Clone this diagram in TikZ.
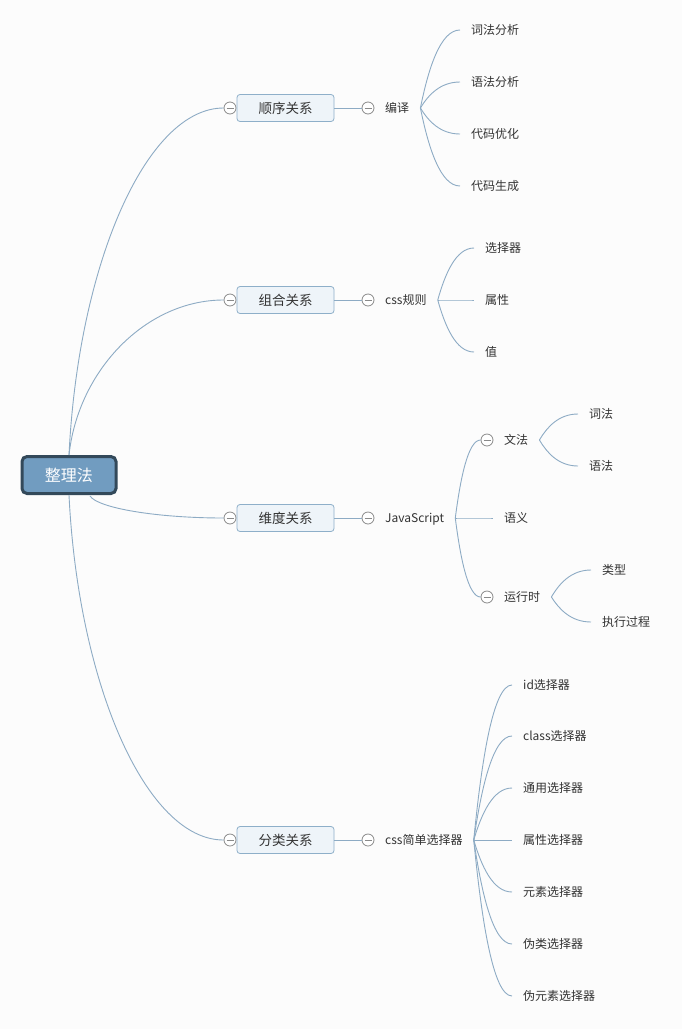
\documentclass[tikz,border=0pt]{standalone}
\usepackage{fontspec}
\setmainfont{Noto Sans CJK SC}
\usetikzlibrary{calc}
\definecolor{bgc}{HTML}{FCFCFC}
\definecolor{linec}{HTML}{8DABC4}
\definecolor{rootfill}{HTML}{719CC0}
\definecolor{rootline}{HTML}{33495A}
\definecolor{boxfill}{HTML}{EEF4F9}
\definecolor{boxline}{HTML}{8EAFC9}
\definecolor{foldc}{HTML}{8A8A8A}
\definecolor{txt}{HTML}{333333}
\tikzset{
  root/.style={draw=rootline, line width=3pt, fill=rootfill, rounded corners=5pt,
    minimum width=94pt, minimum height=37pt, text=white,
    font=\fontsize{16}{18}\selectfont, text height=12pt, text depth=0pt},
  topic/.style={draw=boxline, line width=0.8pt, fill=boxfill, rounded corners=3pt,
    minimum width=97pt, minimum height=27pt, text=txt,
    font=\fontsize{13.5}{16}\selectfont, text height=10pt, text depth=0pt},
  fold/.style={circle, draw=foldc, fill=white, line width=0.8pt, minimum size=12pt, inner sep=0pt,
    path picture={\draw[foldc, line width=0.8pt] ([xshift=2.5pt]path picture bounding box.west)
      -- ([xshift=-2.5pt]path picture bounding box.east);}},
  leaf/.style={anchor=west, inner xsep=11pt, inner ysep=2pt, text=txt,
    font=\fontsize{12}{14}\selectfont, text height=9pt, text depth=0pt},
  link/.style={draw=linec, line width=0.9pt},
  branch/.style={link,
    to path={let \p1=(\tikztostart), \p2=(\tikztotarget) in
      .. controls ({\x1+0.06*(\x2-\x1)},{\y1+0.55*(\y2-\y1)})
      and ({\x1+0.5*(\x2-\x1)},\y2) .. (\p2) \tikztonodes}},
  twig/.style={link,
    to path={let \p1=(\tikztostart), \p2=(\tikztotarget) in
      .. controls ({\x1+0.2*(\x2-\x1)},{\y1+0.5*(\y2-\y1)})
      and ({\x1+0.5*(\x2-\x1)},\y2) .. (\p2) \tikztonodes}}
}
\begin{document}
\begin{tikzpicture}[x=1pt, y=-1pt]
  \fill[bgc] (0,0) rectangle (682,1029);
  \useasboundingbox (0,0) rectangle (682,1029);

  \node[root] (root) at (69,475) {整理法};
  \coordinate (rootse) at (90,496);

  \node[fold] (c1) at (230,108) {};
  \node[fold] (c2) at (230,300) {};
  \node[fold] (c3) at (230,518) {};
  \node[fold] (c4) at (230,840) {};
  \node[topic] (t1) at (285.5,108) {顺序关系};
  \node[topic] (t2) at (285.5,300) {组合关系};
  \node[topic] (t3) at (285.5,518) {维度关系};
  \node[topic] (t4) at (285.5,840) {分类关系};

  \node[fold] (d1) at (368,108) {};
  \node[fold] (d2) at (368,300) {};
  \node[fold] (d3) at (368,518) {};
  \node[fold] (d4) at (368,840) {};
  \node[leaf] (s1) at (374,108) {编译};
  \node[leaf] (s2) at (374,300) {css规则};
  \node[leaf] (s3) at (374,518) {JavaScript};
  \node[leaf] (s4) at (374,840) {css简单选择器};

  \node[leaf] (a1) at (460,30) {词法分析};
  \node[leaf] (a2) at (460,82) {语法分析};
  \node[leaf] (a3) at (460,134) {代码优化};
  \node[leaf] (a4) at (460,186) {代码生成};

  \node[leaf] (b1) at (474,248) {选择器};
  \node[leaf] (b2) at (474,300) {属性};
  \node[leaf] (b3) at (474,352) {值};

  \node[fold] (e1) at (487,440) {};
  \node[fold] (e2) at (487,597) {};
  \node[leaf] (w1) at (493,440) {文法};
  \node[leaf] (w2) at (493,518) {语义};
  \node[leaf] (w3) at (493,597) {运行时};
  \node[leaf] (g1) at (578,414) {词法};
  \node[leaf] (g2) at (578,466) {语法};
  \node[leaf] (h1) at (591,570) {类型};
  \node[leaf] (h2) at (591,622) {执行过程};

  \node[leaf] (k1) at (512,685) {id选择器};
  \node[leaf] (k2) at (512,736) {class选择器};
  \node[leaf] (k3) at (512,788) {通用选择器};
  \node[leaf] (k4) at (512,840) {属性选择器};
  \node[leaf] (k5) at (512,892) {元素选择器};
  \node[leaf] (k6) at (512,944) {伪类选择器};
  \node[leaf] (k7) at (512,996) {伪元素选择器};

  \draw[branch] (root.north) to (c1.west);
  \draw[branch] (root.north) to (c2.west);
  \draw[branch] (rootse) to (c3.west);
  \draw[branch] (root.south) to (c4.west);

  \draw[link] (t1.east) -- (d1.west);
  \draw[link] (t2.east) -- (d2.west);
  \draw[link] (t3.east) -- (d3.west);
  \draw[link] (t4.east) -- (d4.west);

  \draw[twig] (s1.east) to (a1.west);
  \draw[twig] (s1.east) to (a2.west);
  \draw[twig] (s1.east) to (a3.west);
  \draw[twig] (s1.east) to (a4.west);

  \draw[twig] (s2.east) to (b1.west);
  \draw[twig] (s2.east) to (b2.west);
  \draw[twig] (s2.east) to (b3.west);

  \draw[twig] (s3.east) to (e1.west);
  \draw[twig] (s3.east) to (w2.west);
  \draw[twig] (s3.east) to (e2.west);
  \draw[twig] (w1.east) to (g1.west);
  \draw[twig] (w1.east) to (g2.west);
  \draw[twig] (w3.east) to (h1.west);
  \draw[twig] (w3.east) to (h2.west);

  \draw[twig] (s4.east) to (k1.west);
  \draw[twig] (s4.east) to (k2.west);
  \draw[twig] (s4.east) to (k3.west);
  \draw[twig] (s4.east) to (k4.west);
  \draw[twig] (s4.east) to (k5.west);
  \draw[twig] (s4.east) to (k6.west);
  \draw[twig] (s4.east) to (k7.west);
\end{tikzpicture}
\end{document}
